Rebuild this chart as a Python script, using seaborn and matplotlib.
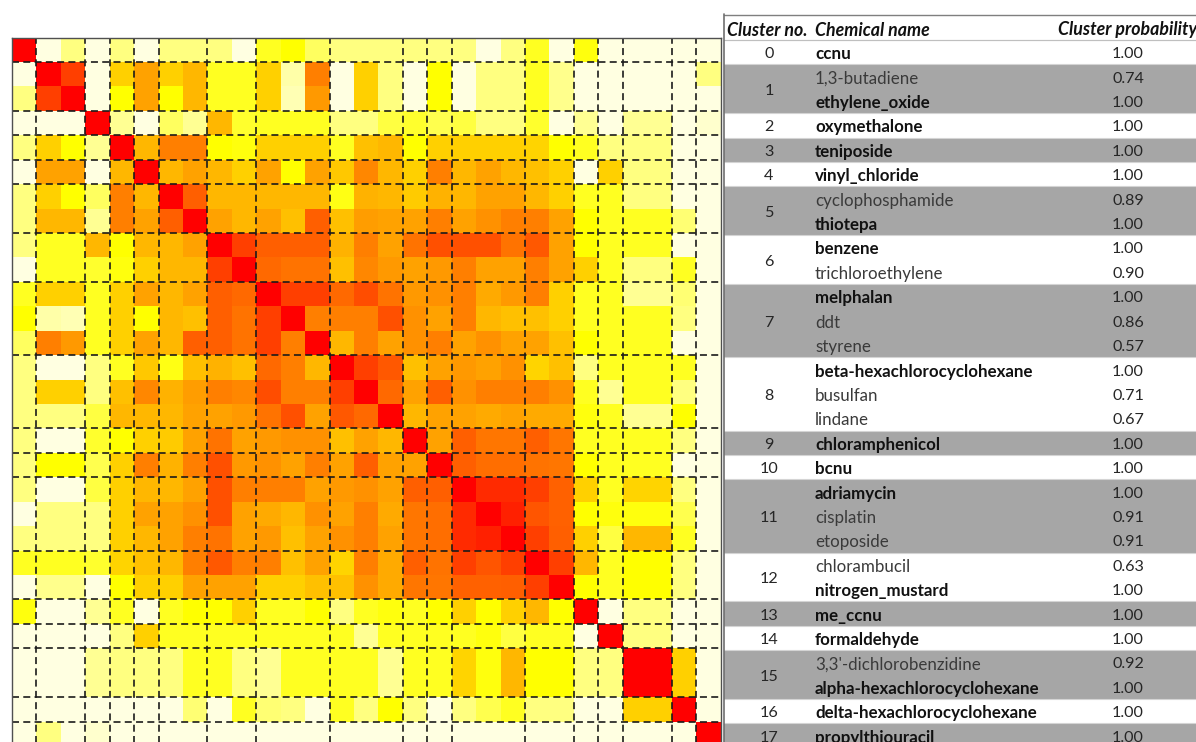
import numpy as np
import matplotlib
matplotlib.use("Agg")
import matplotlib.pyplot as plt
from matplotlib.colors import LinearSegmentedColormap
from matplotlib.patches import Rectangle
import seaborn as sns

sns.set_style("white")
plt.rcParams["font.family"] = ["Lato", "DejaVu Sans"]

# ---- cluster table -------------------------------------------------------
cluster_ids = [0, 1, 1, 2, 3, 4, 5, 5, 6, 6, 7, 7, 7, 8, 8, 8, 9, 10,
               11, 11, 11, 12, 12, 13, 14, 15, 15, 16, 17]
chemical_names = [
    "ccnu", "1,3-butadiene", "ethylene_oxide", "oxymethalone", "teniposide",
    "vinyl_chloride", "cyclophosphamide", "thiotepa", "benzene",
    "trichloroethylene", "melphalan", "ddt", "styrene",
    "beta-hexachlorocyclohexane", "busulfan", "lindane", "chloramphenicol",
    "bcnu", "adriamycin", "cisplatin", "etoposide", "chlorambucil",
    "nitrogen_mustard", "me_ccnu", "formaldehyde", "3,3'-dichlorobenzidine",
    "alpha-hexachlorocyclohexane", "delta-hexachlorocyclohexane",
    "propylthiouracil",
]
cluster_probability = [1.00, 0.74, 1.00, 1.00, 1.00, 1.00, 0.89, 1.00, 1.00,
                       0.90, 1.00, 0.86, 0.57, 1.00, 0.71, 0.67, 1.00, 1.00,
                       1.00, 0.91, 0.91, 0.63, 1.00, 1.00, 1.00, 0.92, 1.00,
                       1.00, 1.00]
table_headers = ["Cluster no.", "Chemical name", "Cluster probability"]

# ---- co-clustering frequency, upper triangle (row i holds columns i+1..28) --
coclustering_upper = [
    [.05, .2, .05, .2, .05, .2, .2, .2, .05, .35, .4, .25, .2, .2, .2, .2, .2, .2, .05, .2, .35, .05, .38, .05, .05, .05, .05, .05],
    [.85, .05, .51, .62, .51, .57, .35, .35, .51, .14, .7, .05, .51, .2, .05, .4, .05, .2, .2, .35, .18, .05, .05, .05, .05, .05, .2],
    [.05, .4, .62, .4, .57, .35, .35, .51, .12, .64, .05, .51, .2, .05, .4, .05, .2, .2, .35, .18, .05, .05, .05, .05, .05, .05],
    [.17, .05, .25, .17, .57, .33, .35, .35, .35, .2, .2, .3, .33, .28, .3, .2, .2, .33, .05, .17, .05, .17, .17, .05, .08],
    [.57, .7, .7, .4, .38, .51, .51, .51, .35, .55, .57, .4, .51, .51, .51, .51, .5, .4, .35, .2, .2, .2, .05, .05],
    [.57, .62, .57, .51, .62, .4, .62, .53, .68, .57, .51, .7, .57, .62, .57, .55, .51, .05, .51, .2, .2, .05, .05],
    [.775, .57, .57, .57, .57, .57, .37, .58, .57, .52, .58, .57, .62, .62, .57, .51, .35, .35, .2, .2, .05, .05],
    [.62, .57, .62, .55, .775, .55, .63, .62, .62, .7, .62, .66, .7, .7, .62, .4, .35, .35, .35, .22, .05],
    [.85, .775, .775, .775, .58, .7, .62, .73, .81, .81, .81, .73, .79, .62, .4, .35, .35, .35, .05, .05],
    [.75, .73, .73, .55, .68, .64, .62, .64, .7, .62, .62, .7, .62, .51, .35, .2, .2, .35, .05],
    [.85, .85, .75, .82, .73, .64, .66, .7, .6, .64, .7, .51, .35, .35, .17, .17, .22, .05],
    [.7, .7, .7, .81, .66, .62, .7, .57, .55, .55, .51, .35, .35, .35, .35, .2, .05],
    [.57, .7, .62, .66, .7, .62, .66, .62, .62, .55, .4, .35, .35, .35, .05, .05],
    [.85, .79, .55, .62, .64, .62, .66, .5, .55, .2, .35, .35, .35, .35, .05],
    [.75, .62, .775, .66, .7, .7, .7, .66, .35, .17, .35, .35, .2, .05],
    [.57, .62, .62, .6, .62, .6, .6, .38, .35, .17, .17, .4, .05],
    [.62, .775, .72, .72, .775, .72, .35, .35, .35, .35, .2, .05],
    [.775, .74, .74, .73, .72, .4, .35, .35, .35, .05, .05],
    [.9, .9, .85, .77, .51, .35, .5, .5, .2, .05],
    [.925, .8, .77, .4, .38, .38, .38, .28, .05],
    [.85, .775, .51, .3, .57, .57, .35, .05],
    [.85, .57, .35, .4, .4, .2, .05],
    [.4, .35, .4, .4, .2, .05],
    [.05, .2, .2, .05, .05],
    [.2, .2, .05, .05],
    [1.0, .51, .05],
    [.51, .05],
    [.05],
]

n = len(chemical_names)
matrix = np.eye(n)
for i, row in enumerate(coclustering_upper):
    for k, v in enumerate(row):
        j = i + 1 + k
        matrix[i, j] = v
        matrix[j, i] = v

cmap = LinearSegmentedColormap.from_list(
    "cream_red", [(0.0, "#FFFFFF"), (0.4, "#FFFF00"), (1.0, "#FF0000")])

# ---- figure ---------------------------------------------------------------
W, H = 1196, 742
fig = plt.figure(figsize=(W / 100, H / 100), dpi=100, facecolor="white")

left_px, top_px, size_px = 12.0, 37.5, 708.5
ax = fig.add_axes([left_px / W, 1 - (top_px + size_px) / H, size_px / W, size_px / H])
sns.heatmap(matrix, cmap=cmap, vmin=0, vmax=1, cbar=False, ax=ax,
            xticklabels=False, yticklabels=False)
for s in ax.spines.values():
    s.set_visible(True)
    s.set_color("#505050")
    s.set_linewidth(1.0)

# dashed separators at cluster boundaries
sizes = np.bincount(cluster_ids)
bounds = np.cumsum(sizes)[:-1]
for b in bounds:
    ax.axhline(b, color="#1a1a1a", lw=1.4, ls=(0, (3.6, 2.2)), alpha=0.85)
    ax.axvline(b, color="#1a1a1a", lw=1.4, ls=(0, (3.6, 2.2)), alpha=0.85)

# ---- table ----------------------------------------------------------------
tab = fig.add_axes([0, 0, 1, 1])
tab.set_xlim(0, W)
tab.set_ylim(H, 0)
tab.axis("off")
tab.patch.set_alpha(0)

x0 = 724
row_top, row_h = 40.0, 24.41
dy = 2.0  # optical centring of text inside a row
body_fs, num_fs, head_fs = 12.2, 11.6, 12.8
starts = np.concatenate([[0], np.cumsum(sizes)[:-1]])
for c, (s0, cnt) in enumerate(zip(starts, sizes)):
    y = row_top + row_h * s0
    color = "#FFFFFF" if c % 2 == 0 else "#A6A6A6"
    tab.add_patch(Rectangle((x0, y), W - x0, row_h * cnt, facecolor=color,
                            edgecolor="none", zorder=1))
    tab.plot([x0, W], [y, y], color="#D4D4D4", lw=0.8, zorder=2)
    tab.text(769, y + row_h * cnt / 2 + dy, str(c), ha="center", va="center",
             fontsize=num_fs, color="#262626", zorder=3)

for i, (name, p) in enumerate(zip(chemical_names, cluster_probability)):
    yc = row_top + row_h * (i + 0.5) + dy
    bold = p >= 0.995
    tab.text(815, yc, name, ha="left", va="center", fontsize=body_fs,
             fontweight="bold" if bold else "normal",
             color="#111111" if bold else "#3a3a3a", zorder=3)
    tab.text(1128, yc, f"{p:.2f}", ha="center", va="center", fontsize=num_fs,
             color="#262626", zorder=3)

header_y = 28 + dy
hx = [727, 815, 1058]
for x, label in zip(hx, table_headers):
    tab.text(x, header_y, label, ha="left", va="center", fontsize=head_fs,
             fontweight="bold", fontstyle="italic", color="#111111", zorder=3)

tab.plot([x0, W], [14.5, 14.5], color="#7F7F7F", lw=1.0, zorder=4)
tab.plot([x0, W], [39.5, 39.5], color="#BFBFBF", lw=0.8, zorder=4)
tab.plot([x0, x0], [14, H], color="#6F6F6F", lw=1.2, zorder=4)

fig.savefig("out.png", dpi=100, facecolor="white")
